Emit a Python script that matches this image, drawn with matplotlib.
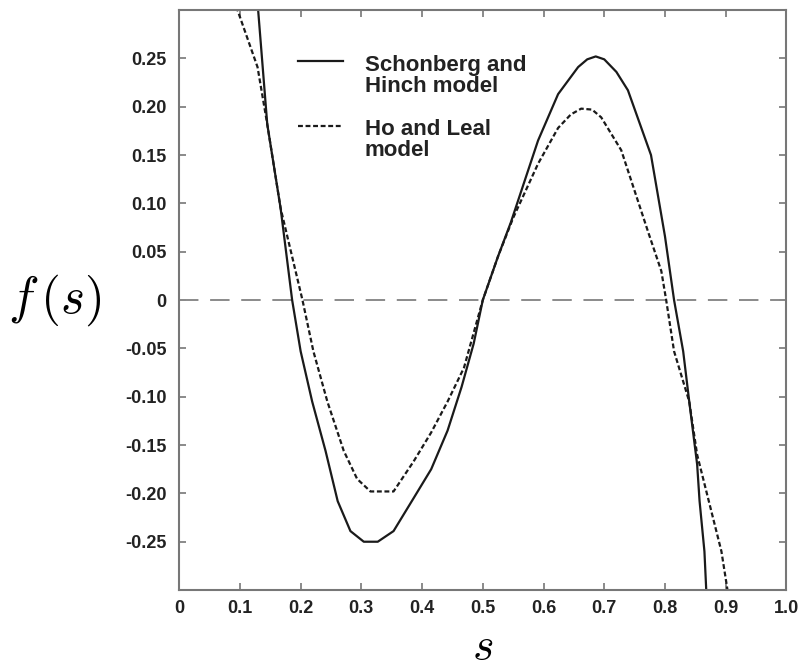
import matplotlib
matplotlib.use("Agg")
import matplotlib.pyplot as plt
from matplotlib.legend_handler import HandlerLine2D
import numpy as np

plt.rcParams['font.family'] = ['Liberation Sans', 'DejaVu Sans']
plt.rcParams['mathtext.fontset'] = 'cm'

# Schonberg and Hinch model (solid)
sh_s = [0.125, 0.130, 0.145, 0.167, 0.186, 0.200, 0.219, 0.241, 0.261, 0.282,
        0.304, 0.327, 0.353, 0.386, 0.415, 0.442, 0.465, 0.485, 0.500, 0.525,
        0.546, 0.591, 0.624, 0.657, 0.672, 0.686, 0.700, 0.720, 0.739, 0.777,
        0.800, 0.815, 0.830, 0.840, 0.853, 0.857, 0.865, 0.868, 0.870]
sh_f = [0.330, 0.300, 0.182, 0.095, 0.000, -0.053, -0.105, -0.156, -0.208, -0.239,
        -0.250, -0.250, -0.239, -0.205, -0.175, -0.135, -0.090, -0.045, 0.000, 0.045,
        0.080, 0.165, 0.213, 0.241, 0.249, 0.252, 0.249, 0.236, 0.217, 0.150,
        0.066, 0.000, -0.053, -0.105, -0.170, -0.208, -0.260, -0.300, -0.330]

# Ho and Leal model (dashed)
hl_s = [0.090, 0.096, 0.129, 0.145, 0.167, 0.203, 0.221, 0.244, 0.271, 0.293,
        0.315, 0.353, 0.386, 0.415, 0.442, 0.469, 0.500, 0.525, 0.550, 0.591,
        0.624, 0.645, 0.662, 0.680, 0.695, 0.728, 0.772, 0.794, 0.802, 0.815,
        0.840, 0.853, 0.873, 0.893, 0.903, 0.906]
hl_f = [0.330, 0.300, 0.241, 0.182, 0.095, 0.000, -0.053, -0.105, -0.156, -0.185,
        -0.198, -0.198, -0.167, -0.137, -0.105, -0.070, 0.000, 0.045, 0.085, 0.141,
        0.178, 0.192, 0.198, 0.197, 0.189, 0.155, 0.071, 0.030, 0.000, -0.053,
        -0.105, -0.160, -0.210, -0.260, -0.300, -0.330]

x_ticks = [0, 0.1, 0.2, 0.3, 0.4, 0.5, 0.6, 0.7, 0.8, 0.9, 1.0]
x_labels = ['0', '0.1', '0.2', '0.3', '0.4', '0.5', '0.6', '0.7', '0.8', '0.9', '1.0']
y_ticks = [-0.25, -0.20, -0.15, -0.10, -0.05, 0, 0.05, 0.10, 0.15, 0.20, 0.25]
y_labels = ['-0.25', '-0.20', '-0.15', '-0.10', '-0.05', '0', '0.05', '0.10', '0.15', '0.20', '0.25']


class RaisedLineHandler(HandlerLine2D):
    """Legend line handler that lifts the sample line to the first text row."""
    def __init__(self, dy=0.0, **kw):
        super().__init__(**kw)
        self.dy = dy

    def create_artists(self, legend, orig_handle, xdescent, ydescent, width,
                       height, fontsize, trans):
        artists = super().create_artists(legend, orig_handle, xdescent, ydescent,
                                         width, height, fontsize, trans)
        for a in artists:
            a.set_ydata(np.asarray(a.get_ydata()) + self.dy * fontsize)
        return artists


fig = plt.figure(figsize=(8, 6.69), dpi=100)
ax = fig.add_axes([0.224, 0.118, 0.759, 0.867])

ax.axhline(0, color='#8a8a8a', lw=1.4, dashes=(10, 6))
l1, = ax.plot(sh_s, sh_f, color='#1a1a1a', lw=1.6, label='Schonberg and\nHinch model')
l2, = ax.plot(hl_s, hl_f, color='#1a1a1a', lw=1.6, dashes=(2.2, 1.2), label='Ho and Leal\nmodel')

ax.set_xlim(0, 1.0)
ax.set_ylim(-0.30, 0.30)
ax.set_xticks(x_ticks)
ax.set_xticklabels(x_labels)
ax.set_yticks(y_ticks)
ax.set_yticklabels(y_labels)
ax.tick_params(direction='in', length=5, width=1.2, color='#777777',
               top=True, right=True, labelsize=13)
ax.tick_params(axis='x', pad=7)
ax.tick_params(axis='y', pad=9)
for lab in ax.get_xticklabels() + ax.get_yticklabels():
    lab.set_fontweight('bold')
    lab.set_color('#222222')
for sp in ax.spines.values():
    sp.set_color('#777777')
    sp.set_linewidth(1.5)

ax.set_xlabel(r'$s$', fontsize=33, labelpad=6)
ax.set_ylabel(r'$f\,(s)$', fontsize=37, rotation=0, va='center', ha='center')
ax.yaxis.set_label_coords(-0.205, 0.5)

hmap = {l1: RaisedLineHandler(dy=0.7), l2: RaisedLineHandler(dy=0.65)}
leg = ax.legend(handles=[l1, l2], loc='upper left', bbox_to_anchor=(0.163, 0.957),
                frameon=False, prop={'weight': 'bold', 'size': 16}, handlelength=2.0,
                handletextpad=1.0, labelspacing=1.0, handler_map=hmap)
for t in leg.get_texts():
    t.set_color('#222222')
    t.set_linespacing(1.0)

fig.savefig('out.png', dpi=100)
